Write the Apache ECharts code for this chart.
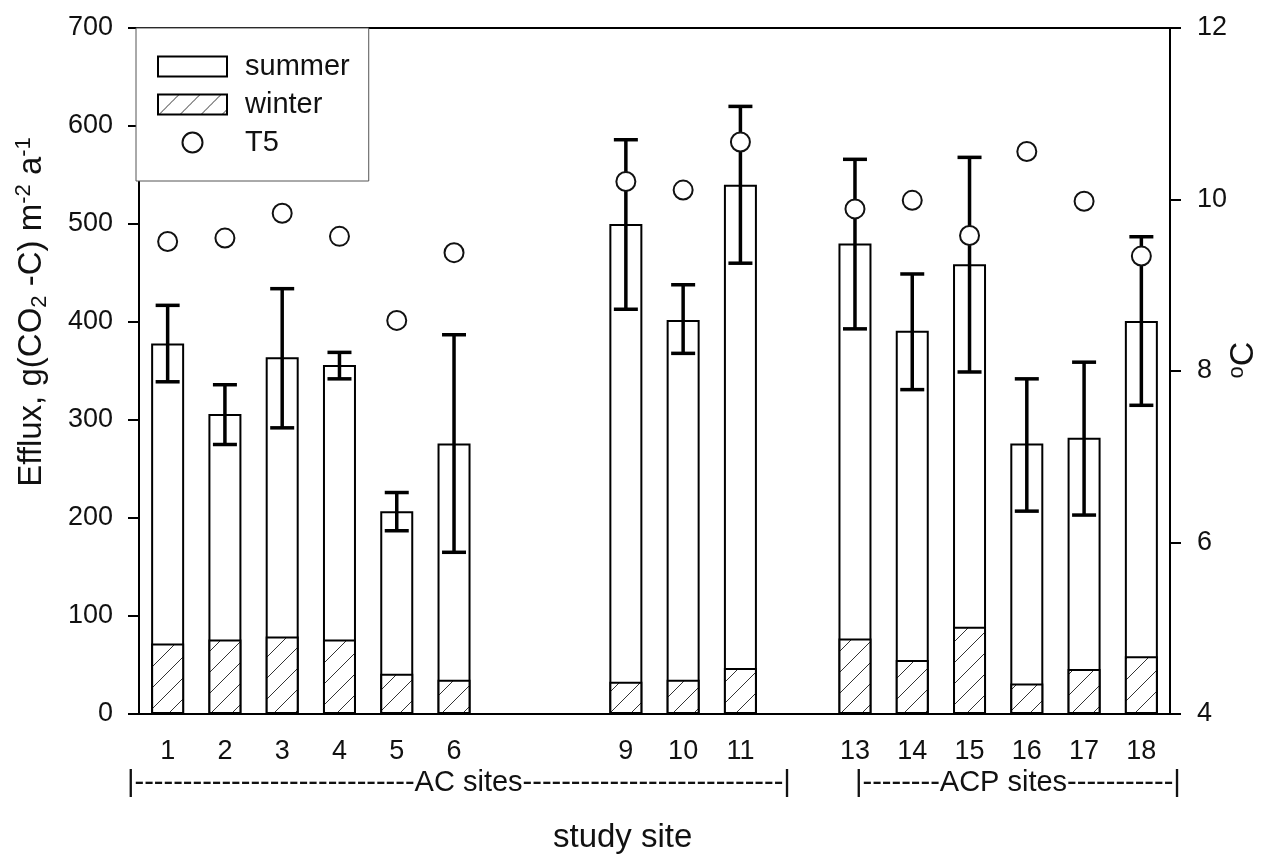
<!DOCTYPE html>
<html>
<head>
<meta charset="utf-8">
<script src="https://cdn.jsdelivr.net/npm/echarts@6/dist/echarts.min.js"></script>
<style>
  html, body { margin: 0; padding: 0; background: #fff; }
  #chart { width: 1264px; height: 854px; }
</style>
</head>
<body>
<div id="chart"></div>
<script>
// study sites (7, 8 and 12 are empty slots on the axis)
const sites = ['1', '2', '3', '4', '5', '6', '', '', '9', '10', '11', '', '13', '14', '15', '16', '17', '18']
// annual efflux, g(CO2-C) m-2 a-1
const summer = [378, 306, 364, 356, 207, 276, '-', '-', 500, 402, 540, '-', 480, 391, 459, 276, 282, 401]
const winter = [72, 76, 79, 76, 41, 35, '-', '-', 33, 35, 47, '-', 77, 55, 89, 31, 46, 59]
const errLow = [339, 275, 292, 342, 187, 165, '-', '-', 413, 368, 460, '-', 393, 331, 349, 207, 203, 315]
const errHigh = [417, 336, 434, 369, 226, 387, '-', '-', 586, 438, 620, '-', 566, 449, 568, 342, 359, 487]
// soil temperature at 5 cm, degC
const t5 = [9.51, 9.55, 9.84, 9.57, 8.59, 9.38, '-', '-', 10.21, 10.11, 10.67, '-', 9.89, 9.99, 9.58, 10.56, 9.98, 9.34]

const FONT = 'Liberation Sans, Arial, Helvetica, sans-serif'

function hatchPattern() {
  const s = 21
  const c = document.createElement('canvas')
  c.width = s
  c.height = s
  const ctx = c.getContext('2d')
  ctx.fillStyle = '#fff'
  ctx.fillRect(0, 0, s, s)
  ctx.strokeStyle = '#333'
  ctx.lineWidth = 1
  ctx.beginPath()
  ctx.moveTo(-1, s + 1)
  ctx.lineTo(s + 1, -1)
  ctx.moveTo(-2, 2)
  ctx.lineTo(2, -2)
  ctx.moveTo(s - 2, s + 2)
  ctx.lineTo(s + 2, s - 2)
  ctx.stroke()
  return c
}

const errData = sites.map((s, i) => [i, errLow[i], errHigh[i]]).filter((d) => d[1] !== '-')

const chart = echarts.init(document.getElementById('chart'))

chart.setOption({
  animation: false,
  backgroundColor: '#fff',
  textStyle: { fontFamily: FONT, color: '#111' },
  grid: {
    left: 139, right: 94, top: 28, bottom: 140,
    show: true, borderColor: '#000', borderWidth: 2, backgroundColor: 'transparent',
  },
  legend: {
    orient: 'vertical',
    left: 136,
    top: 28,
    padding: [24, 19, 24, 21],
    itemWidth: 69,
    itemHeight: 20,
    itemGap: 9,
    borderColor: '#555',
    borderWidth: 1,
    backgroundColor: '#fff',
    textStyle: { fontSize: 29, color: '#111', fontFamily: FONT, padding: [0, 0, 0, 13] },
    data: [
      { name: 'summer', icon: 'rect' },
      { name: 'winter', icon: 'rect' },
      { name: 'T5', icon: 'circle' },
    ],
  },
  xAxis: {
    type: 'category',
    data: sites,
    axisLine: { lineStyle: { color: '#000', width: 2 } },
    axisTick: { alignWithLabel: true, interval: 0, length: 11, lineStyle: { color: '#000', width: 2 } },
    axisLabel: { interval: 0, fontSize: 27, color: '#111', margin: 24 },
  },
  yAxis: [
    {
      type: 'value',
      min: 0,
      max: 700,
      interval: 100,
      splitLine: { show: false },
      axisLine: { show: true, lineStyle: { color: '#000', width: 2 } },
      axisTick: { show: true, length: 11, lineStyle: { color: '#000', width: 2 } },
      axisLabel: { fontSize: 27, color: '#111', margin: 26 },
    },
    {
      type: 'value',
      position: 'right',
      min: 4,
      max: 12,
      interval: 2,
      splitLine: { show: false },
      axisLine: { show: true, lineStyle: { color: '#000', width: 2 } },
      axisTick: { show: true, length: 11, lineStyle: { color: '#000', width: 2 } },
      axisLabel: { fontSize: 27, color: '#111', margin: 27 },
    },
  ],
  series: [
    {
      name: 'summer',
      type: 'bar',
      barWidth: 33,
      barGap: '-100%',
      itemStyle: { color: '#fff', borderColor: '#000', borderWidth: 2 },
      data: summer,
      z: 2,
    },
    {
      name: 'winter',
      type: 'bar',
      barWidth: 33,
      barGap: '-100%',
      itemStyle: { color: { image: hatchPattern(), repeat: 'repeat' }, borderColor: '#000', borderWidth: 2 },
      data: winter,
      z: 3,
    },
    {
      name: 'error',
      type: 'custom',
      z: 4,
      encode: { x: 0, y: [1, 2] },
      data: errData,
      renderItem: (params, api) => {
        const lo = api.coord([api.value(0), api.value(1)])
        const hi = api.coord([api.value(0), api.value(2)])
        const w = 12
        const st = { stroke: '#000', lineWidth: 3.5 }
        return {
          type: 'group',
          children: [
            { type: 'line', shape: { x1: lo[0], y1: lo[1], x2: hi[0], y2: hi[1] }, style: st },
            { type: 'line', shape: { x1: lo[0] - w, y1: lo[1], x2: lo[0] + w, y2: lo[1] }, style: st },
            { type: 'line', shape: { x1: hi[0] - w, y1: hi[1], x2: hi[0] + w, y2: hi[1] }, style: st },
          ],
        }
      },
    },
    {
      name: 'T5',
      type: 'scatter',
      yAxisIndex: 1,
      symbol: 'circle',
      symbolSize: 19,
      itemStyle: { color: '#fff', borderColor: '#111', borderWidth: 2, opacity: 1 },
      data: t5,
      z: 10,
    },
  ],
  graphic: [
    {
      // left axis title
      type: 'text', x: 32, y: 312, rotation: Math.PI / 2,
      style: {
        text: 'Efflux, g(CO{sub|2} -C) m{sup|-2} a{sup|-1}',
        font: '33px ' + FONT, fill: '#111', align: 'center', verticalAlign: 'middle', lineHeight: 38,
        rich: {
          sub: { fontSize: 22, lineHeight: 22, verticalAlign: 'bottom', fontFamily: FONT, fill: '#111' },
          sup: { fontSize: 22, lineHeight: 22, verticalAlign: 'top', fontFamily: FONT, fill: '#111' },
        },
      },
    },
    {
      // right axis title
      type: 'text', x: 1244, y: 360, rotation: Math.PI / 2,
      style: {
        text: '{sup|o}C',
        font: '34px ' + FONT, fill: '#111', align: 'center', verticalAlign: 'middle', lineHeight: 36,
        rich: {
          sup: { fontSize: 22, lineHeight: 22, verticalAlign: 'top', fontFamily: FONT, fill: '#111' },
        },
      },
    },
    {
      type: 'text', left: 127, top: 768,
      style: { text: '|' + '-'.repeat(29) + 'AC sites' + '-'.repeat(27) + '|', font: '29px ' + FONT, fill: '#111' },
    },
    {
      type: 'text', left: 855, top: 768,
      style: { text: '|' + '-'.repeat(8) + 'ACP sites' + '-'.repeat(11) + '|', font: '29px ' + FONT, fill: '#111' },
    },
    {
      type: 'text', left: 553, top: 821,
      style: { text: 'study site', font: '33px ' + FONT, fill: '#111' },
    },
  ],
})
</script>
</body>
</html>
